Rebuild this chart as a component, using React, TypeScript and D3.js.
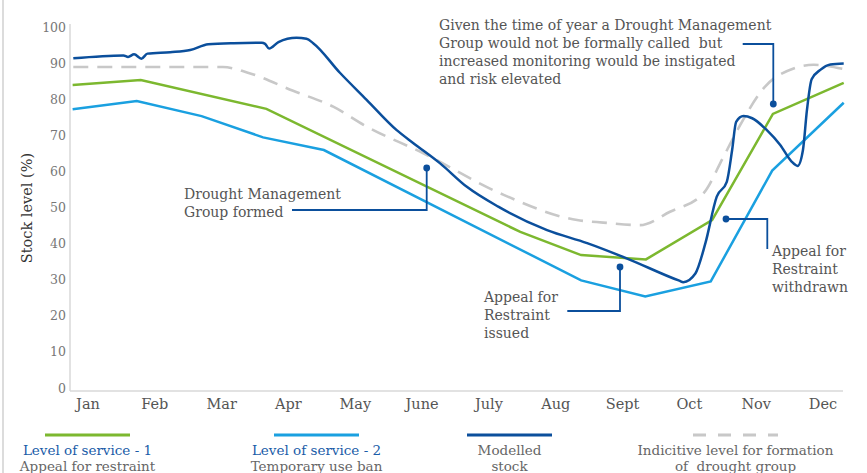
import React from "react";
import * as d3 from "d3";

const WIDTH = 867;
const HEIGHT = 473;
const FONT = "'DejaVu Serif', serif";

// month tick labels; x values below are in month units (Jan = 0)
const MONTHS = ["Jan", "Feb", "Mar", "Apr", "May", "June", "July", "Aug", "Sept", "Oct", "Nov", "Dec"];
const Y_TICKS = [0, 10, 20, 30, 40, 50, 60, 70, 80, 90, 100];

// Level of service 1 - appeal for restraint
const los1: [number, number][] = [
  [-0.23, 84.2], [0.79, 85.6], [2.67, 77.6], [6.47, 43.5], [7.38, 37.1],
  [8.35, 35.9], [9.34, 46.8], [10.25, 76.2], [11.31, 84.8],
];

// Level of service 2 - temporary use ban
const los2: [number, number][] = [
  [-0.23, 77.5], [0.73, 79.8], [1.7, 75.6], [2.62, 69.7], [3.53, 66.2],
  [7.38, 30.1], [8.34, 25.6], [9.32, 29.8], [10.24, 60.5], [11.31, 79.3],
];

// modelled stock
const modelled: [number, number][] = [
  [-0.22, 91.6], [0.53, 92.4], [0.6, 92.0], [0.69, 92.7], [0.8, 91.5],
  [0.89, 92.9], [1.23, 93.3], [1.53, 93.9], [1.8, 95.5], [2.18, 95.8],
  [2.6, 95.9], [2.65, 95.6], [2.71, 94.3], [2.85, 96.1], [3.12, 97.3],
  [3.27, 97.0], [3.37, 95.8], [3.77, 87.6], [4.17, 80.1], [4.62, 71.7],
  [4.87, 68.1], [5.27, 62.5], [5.67, 56.0], [6.14, 50.5], [6.87, 44.0],
  [7.47, 40.4], [8.06, 36.2], [8.85, 30.0], [8.91, 29.6], [9.09, 32.0],
  [9.24, 40.4], [9.41, 53.3], [9.56, 57.4], [9.64, 66.2], [9.7, 74.0],
  [9.81, 75.6], [9.94, 75.0], [10.16, 71.7], [10.36, 67.6], [10.53, 63.0],
  [10.62, 61.8], [10.7, 66.2], [10.76, 77.3], [10.83, 85.8], [10.96, 88.4],
  [11.11, 89.9], [11.31, 90.2],
];

// indicative level for formation of drought group
const indicative: [number, number][] = [
  [-0.22, 89.2], [2.02, 89.2], [2.38, 87.7], [3.07, 82.6], [3.67, 78.2],
  [4.17, 72.7], [5.02, 65.3], [6.17, 54.2], [7.32, 46.8], [7.71, 46.1],
  [8.26, 45.4], [8.71, 49.1], [9.21, 54.2], [9.51, 64.3], [9.76, 73.1],
  [10.13, 83.7], [10.56, 88.8], [10.86, 89.8], [11.31, 88.6],
];

const GREEN = "#7cb82f";
const LIGHT_BLUE = "#1aa0e0";
const DARK_BLUE = "#0b4f9c";
const GREY_DASH = "#c8c8c8";
const TEXT = "#555";

const legendItems = [
  { title: "Level of service - 1", sub: "Appeal for restraint", color: GREEN, dash: false, cx: 87.5 },
  { title: "Level of service - 2", sub: "Temporary use ban", color: LIGHT_BLUE, dash: false, cx: 316.5 },
  { title: "", sub: "Modelled", sub2: "stock", color: DARK_BLUE, dash: false, cx: 509.5 },
  { title: "", sub: "Indicitive level for formation", sub2: "of  drought group", color: GREY_DASH, dash: true, cx: 735.5 },
];

export default function App() {
  const x = d3.scaleLinear().domain([0, 11]).range([88, 823]);
  const y = d3.scaleLinear().domain([0, 100]).range([389, 28]);

  const smooth = d3
    .line<[number, number]>()
    .x((d) => x(d[0]))
    .y((d) => y(d[1]))
    .curve(d3.curveMonotoneX);
  const linear = d3
    .line<[number, number]>()
    .x((d) => x(d[0]))
    .y((d) => y(d[1]));

  const annoStyle = { fontFamily: FONT, fontSize: 14, fill: TEXT, style: { whiteSpace: "pre" as const } };

  return (
    <svg
      width={WIDTH}
      height={HEIGHT}
      style={{ position: "absolute", left: 0, top: 0, background: "#fff" }}
    >
      {/* frame */}
      <line x1={3} x2={3} y1={0} y2={HEIGHT} stroke="#d0d0d0" strokeWidth={1.5} />

      {/* axes */}
      <line x1={70} x2={70} y1={24} y2={391} stroke="#d9d9d9" strokeWidth={1.5} />
      <line x1={70} x2={843} y1={391} y2={391} stroke="#d9d9d9" strokeWidth={1.5} />
      {Y_TICKS.map((t) => (
        <text
          key={t}
          x={66}
          y={y(t) - 1}
          textAnchor="end"
          dominantBaseline="central"
          fontFamily={FONT}
          fontSize={12.5}
          fill="#777"
        >
          {t}
        </text>
      ))}
      {MONTHS.map((m, i) => (
        <text
          key={m}
          x={x(i)}
          y={409}
          textAnchor="middle"
          fontFamily={FONT}
          fontSize={14.5}
          fill={TEXT}
        >
          {m}
        </text>
      ))}
      <text
        transform="translate(32,208) rotate(-90)"
        textAnchor="middle"
        fontFamily={FONT}
        fontSize={14.5}
        fill="#333"
      >
        Stock level (%)
      </text>

      {/* series */}
      <path d={smooth(indicative) ?? ""} fill="none" stroke={GREY_DASH} strokeWidth={2.6} strokeDasharray="15,9" />
      <path d={linear(los2) ?? ""} fill="none" stroke={LIGHT_BLUE} strokeWidth={2.5} />
      <path d={linear(los1) ?? ""} fill="none" stroke={GREEN} strokeWidth={2.5} />
      <path d={smooth(modelled) ?? ""} fill="none" stroke={DARK_BLUE} strokeWidth={2.5} />

      {/* annotations */}
      <g stroke={DARK_BLUE} strokeWidth={1.8} fill="none">
        <polyline points="292,210 426.7,210 426.7,168" />
        <polyline points="742.7,44 773.3,44 773.3,104" />
        <polyline points="726,219 767.3,219 767.3,249" />
        <polyline points="620,267 620,311 567.3,311" />
      </g>
      <g fill={DARK_BLUE}>
        <circle cx={426.7} cy={168} r={3.4} />
        <circle cx={773.3} cy={104} r={3.4} />
        <circle cx={726} cy={219} r={3.4} />
        <circle cx={620} cy={267} r={3.4} />
      </g>

      <text {...annoStyle}>
        <tspan x={184} y={199}>Drought Management</tspan>
        <tspan x={184} y={217}>Group formed</tspan>
      </text>
      <text {...annoStyle}>
        <tspan x={439} y={30}>Given the time of year a Drought Management</tspan>
        <tspan x={439} y={48}>Group would not be formally called  but</tspan>
        <tspan x={439} y={66}>increased monitoring would be instigated</tspan>
        <tspan x={439} y={84}>and risk elevated</tspan>
      </text>
      <text {...annoStyle}>
        <tspan x={772} y={256}>Appeal for</tspan>
        <tspan x={772} y={274}>Restraint</tspan>
        <tspan x={772} y={292}>withdrawn</tspan>
      </text>
      <text {...annoStyle}>
        <tspan x={484} y={302}>Appeal for</tspan>
        <tspan x={484} y={320}>Restraint</tspan>
        <tspan x={484} y={338}>issued</tspan>
      </text>

      {/* legend */}
      {legendItems.map((item) => (
        <g key={item.sub}>
          <line
            x1={item.cx - 42.5}
            x2={item.cx + 42.5}
            y1={435}
            y2={435}
            stroke={item.color}
            strokeWidth={3}
            strokeDasharray={item.dash ? "13,12" : undefined}
          />
          <text
            x={item.cx}
            y={455}
            textAnchor="middle"
            fontFamily={FONT}
            fontSize={13.5}
            fill={item.title ? "#1a5ca8" : "#666"}
          >
            {item.title || item.sub}
          </text>
          <text
            x={item.cx}
            y={470.5}
            textAnchor="middle"
            fontFamily={FONT}
            fontSize={13.5}
            fill="#666"
            style={{ whiteSpace: "pre" }}
          >
            {item.title ? item.sub : item.sub2}
          </text>
        </g>
      ))}
    </svg>
  );
}
